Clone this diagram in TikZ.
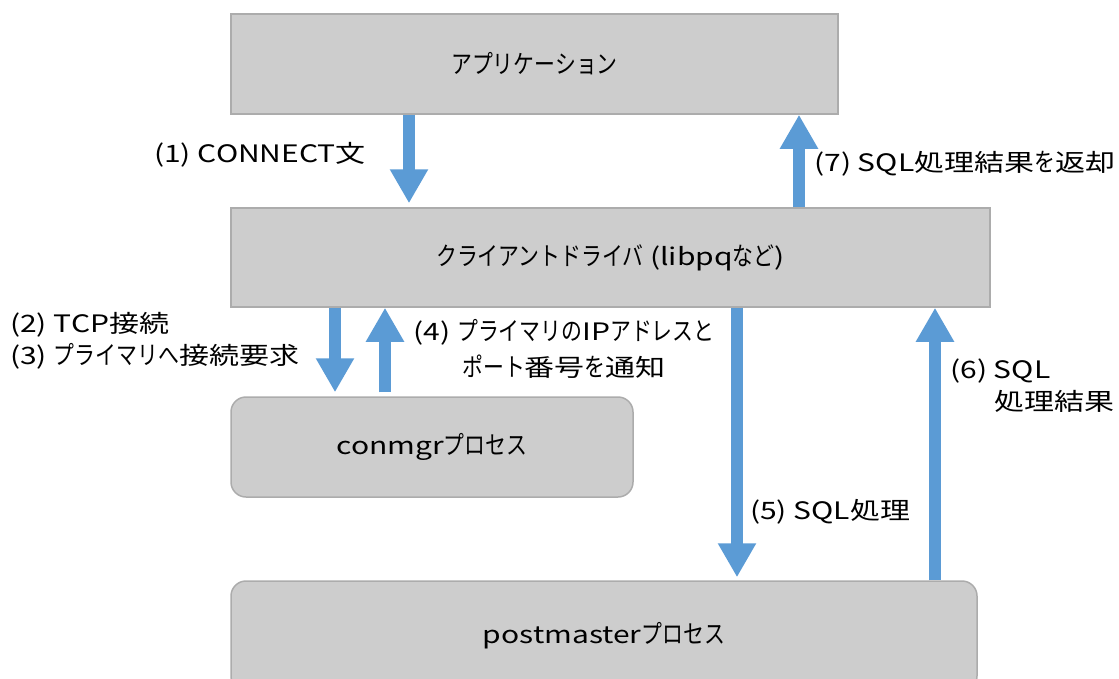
\documentclass[tikz,border=0pt]{standalone}
\usepackage{fontspec}
\setmainfont{Noto Sans CJK JP}[FakeStretch=1.25]
\newfontfamily\kana{Noto Sans CJK JP}[Scale=1.06,FakeStretch=0.82]
\usetikzlibrary{arrows.meta}
\definecolor{boxgray}{RGB}{205,205,205}
\definecolor{boxline}{RGB}{172,172,172}
\definecolor{flowblue}{RGB}{91,155,213}
\begin{document}
\begin{tikzpicture}[x=1pt,y=-1pt]
  \tikzset{
    box/.style={draw=boxline,line width=1.5pt,fill=boxgray,minimum height=100pt,inner sep=0pt,font=\fontsize{24}{32}\selectfont},
    rbox/.style={box,rounded corners=15pt},
    flow/.style={draw=flowblue,line width=12pt,-{Triangle[width=36pt,length=34pt]}},
    lbl/.style={font=\fontsize{24}{32}\selectfont,inner sep=0pt}
  }
  \useasboundingbox (0,0) rectangle (1119,678);
  \clip (0,0) rectangle (1119,678);

  \node[box,minimum width=607pt] (app) at (534.5,64) {{\kana アプリケーション}};
  \node[box,minimum width=759pt,minimum height=99pt] (drv) at (610.5,257.5) {{\kana クライアントドライバ} (libpq{\kana など})};
  \node[rbox,minimum width=402pt] (cmgr) at (432,447) {conmgr{\kana プロセス}};
  \node[rbox,minimum width=746pt,minimum height=110pt] (pmst) at (604,636) {postmaster{\kana プロセス}};

  \draw[flow,shorten >=4pt] (app.south -| 409,0) -- (drv.north -| 409,0);
  \draw[flow] (drv.north -| 799,0) -- (app.south -| 799,0);
  \draw[flow,shorten >=4pt] (drv.south -| 335,0) -- (cmgr.north -| 335,0);
  \draw[flow,shorten <=4pt] (cmgr.north -| 385,0) -- (drv.south -| 385,0);
  \draw[flow,shorten >=3pt] (drv.south -| 737,0) -- (pmst.north -| 737,0);
  \draw[flow] (pmst.north -| 935,0) -- (drv.south -| 935,0);

  \node[lbl,anchor=east] (l1) at (366,155) {(1) CONNECT文};
  \node[lbl,anchor=west] (l7) at (814,164) {(7) SQL処理結果{\kana を}返却};
  \node[lbl,anchor=west,align=left] (l23) at (10,341) {(2) TCP接続\\(3) {\kana プライマリへ}接続要求};
  \node[lbl,align=center] (l4) at (564,349) {(4) {\kana プライマリの}IP{\kana アドレスと}\\[4pt]{\kana ポート}番号{\kana を}通知};
  \node[lbl,anchor=west] (l5) at (750,512) {(5) SQL処理};
  \node[lbl,anchor=west,align=left] (l6) at (950,386) {(6) SQL\\\hspace*{44pt}処理結果};
\end{tikzpicture}
\end{document}
